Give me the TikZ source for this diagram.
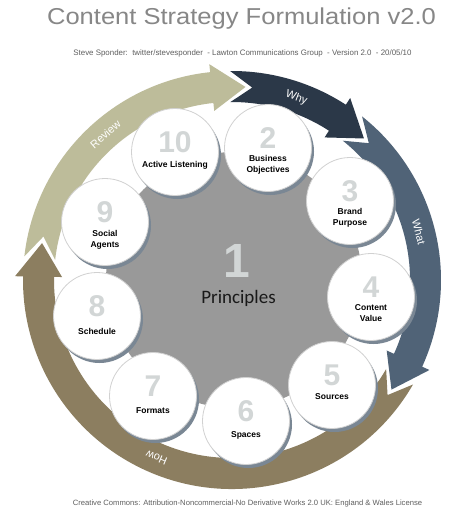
\documentclass[tikz,border=0pt]{standalone}
\usepackage{fontspec}
\setmainfont{Liberation Sans}
\newfontfamily\carlito{Carlito}
\definecolor{review}{RGB}{189,188,154}
\definecolor{why}{RGB}{43,56,72}
\definecolor{what}{RGB}{80,99,119}
\definecolor{how}{RGB}{140,126,96}
\definecolor{numgray}{RGB}{210,214,214}
\definecolor{centergray}{RGB}{153,153,153}
\definecolor{shadowc}{RGB}{122,135,148}
\definecolor{titlegray}{RGB}{135,135,135}
\definecolor{subgray}{RGB}{95,95,95}
\newcommand\ringarrow[4]{%
  \fill[#1] (#2:\Ro) arc[start angle=#2,end angle=#3,radius=\Ro] -- (#3:\Ho) -- (#4:\Rm) -- (#3:\Hi) -- (#3:\Ri) arc[start angle=#3,end angle=#2,radius=\Ri] -- ({#2-6.5}:\Rm) -- cycle;}
\newcommand\bubble[7]{% name, x, y, number, label, label y, label anchor
  \fill[shadowc] ({#2+2.5},{-#3-3.5}) circle (43.5);
  \node[bubblenode] (#1) at (#2,-#3) {};
  \node[numtext] (#1n) at (#2,{-#3-0.5}) {#4};
  \node[labtext,anchor=#7] (#1l) at (#2,{-#3-#6}) {#5};}
\tikzset{
  bubblenode/.style={circle,minimum size=87,inner sep=0,fill=white,draw=black!18,line width=0.8},
  numtext/.style={anchor=base,inner sep=0,text=numgray,font=\fontsize{30}{30}\selectfont\bfseries},
  labtext/.style={inner sep=0,align=center,text=black,font=\fontsize{8.5}{11}\selectfont\bfseries},
  arrowtext/.style={inner sep=0,text=white,font=\fontsize{11}{11}\selectfont},
}
\begin{document}
\begin{tikzpicture}[x=1pt,y=1pt]
\useasboundingbox (0,0) rectangle (471,-517);
\fill[white] (0,0) rectangle (471,-517);
% title
\node[text=titlegray,font=\fontsize{23}{23}\selectfont] (title) at (241.5,-19) {\scalebox{1.11}[1]{Content Strategy Formulation v2.0}};
\node[text=subgray,font=\fontsize{7.9}{8}\selectfont] (sub) at (242.5,-53) {Steve Sponder:\ \ twitter/stevesponder\ \ - Lawton Communications Group\ \ - Version 2.0\ \ - 20/05/10};
\node[text=subgray,font=\fontsize{7.65}{8}\selectfont] (foot) at (247.5,-504) {Creative Commons: Attribution-Noncommercial-No Derivative Works 2.0 UK: England \& Wales License};
% ring arrows
\begin{scope}[shift={(232,-280)}]
\def\Ri{178}\def\Ro{209}\def\Rm{193.5}\def\Hi{170}\def\Ho{217}
\ringarrow{how}{-30}{-181}{-191}
\ringarrow{review}{173.5}{96}{86}
\ringarrow{why}{90.5}{57}{47}
\ringarrow{what}{51.5}{-24.5}{-34.5}
\node[arrowtext,rotate=41] (treview) at (131:193) {Review};
\node[arrowtext,rotate=-20] (twhy) at (70.5:193) {Why};
\node[arrowtext,rotate=-75.5] (twhat) at (14.5:193) {What};
\node[arrowtext,rotate=157] (thow) at (-113:193) {How};
\end{scope}
% core
\node[circle,minimum size=256,inner sep=0,fill=centergray] (core) at (234,-280) {};
\node[anchor=base,inner sep=0,text=numgray,font=\fontsize{48}{48}\selectfont\bfseries] (one) at (237,-277) {1};
\node[anchor=base,inner sep=0,text=black!90,font=\carlito\fontsize{19}{19}\selectfont] (principles) at (238.5,-303) {Principles};
% bubbles
\bubble{b10}{175}{152}{10}{Active Listening}{15.5}{base}
\bubble{b2}{268}{148}{2}{Business\\Objectives}{17}{center}
\bubble{b3}{350}{201}{3}{Brand\\Purpose}{17}{center}
\bubble{b4}{371}{297}{4}{Content\\Value}{16}{center}
\bubble{b5}{332}{385}{5}{Sources}{14.5}{base}
\bubble{b6}{246}{421}{6}{Spaces}{16}{base}
\bubble{b7}{153}{396}{7}{Formats}{17}{base}
\bubble{b8}{97}{316}{8}{Schedule}{18}{base}
\bubble{b9}{105}{222}{9}{Social\\Agents}{18}{center}
\end{tikzpicture}
\end{document}
